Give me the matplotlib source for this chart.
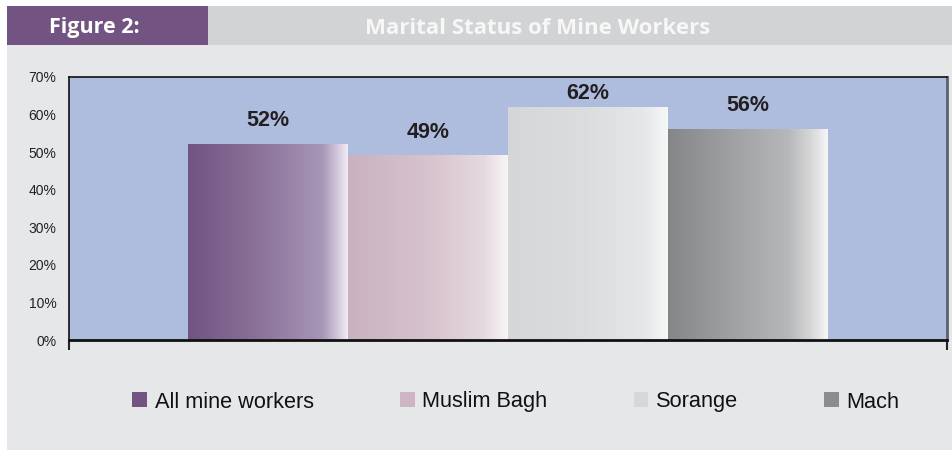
import numpy as np
import matplotlib
matplotlib.use("Agg")
import matplotlib.pyplot as plt
from matplotlib.patches import Rectangle, Patch
from matplotlib.colors import LinearSegmentedColormap

# ---- data ----
series = ["All mine workers", "Muslim Bagh", "Sorange", "Mach"]
values = [52, 49, 62, 56]
value_labels = ["52%", "49%", "62%", "56%"]
yticks = [0, 10, 20, 30, 40, 50, 60, 70]
ytick_labels = ["0%", "10%", "20%", "30%", "40%", "50%", "60%", "70%"]
fig_label = "Figure 2:"
title = "Marital Status of Mine Workers"

# ---- styles ----
legend_colors = ["#735382", "#cfb4c3", "#d6d7d9", "#8c8d8f"]
gradients = [
    [(0.0, "#735382"), (0.45, "#8b7399"), (0.84, "#a796b7"), (0.93, "#cfc4da"), (1.0, "#f0edf4")],
    [(0.0, "#cab1c0"), (0.5, "#d6c3cd"), (0.85, "#e5d9df"), (1.0, "#f8f5f7")],
    [(0.0, "#d5d6d8"), (0.5, "#dcdddf"), (0.85, "#e6e7e8"), (1.0, "#f6f7f7")],
    [(0.0, "#858688"), (0.45, "#a3a4a6"), (0.75, "#b6b7b9"), (0.9, "#d8d8d9"), (1.0, "#f6f6f6")],
]

W, H = 952, 450
fig = plt.figure(figsize=(W / 100, H / 100), dpi=100, facecolor="white")

def frect(x0, y0, x1, y1, color, z=-10):
    # pixel coords (top-left origin) -> figure fraction
    fig.patches.append(Rectangle((x0 / W, 1 - y1 / H), (x1 - x0) / W, (y1 - y0) / H,
                                 transform=fig.transFigure, facecolor=color,
                                 edgecolor="none", zorder=z))

frect(7, 45, 952, 450, "#e6e7e9")
frect(7, 6, 208, 45, "#735382")
frect(208, 6, 952, 45, "#d2d3d5")

fig.text(94 / W, 1 - 28 / H, fig_label, color="white", fontsize=15.5, fontweight="bold",
         family="Open Sans", ha="center", va="center")
fig.text(538 / W, 1 - 28 / H, title, color="#f7f7f7", fontsize=16, fontweight="bold",
         family="Open Sans", ha="center", va="center")

ax_l, ax_r, ax_t, ax_b = 69, 947, 77, 340
ax = fig.add_axes([ax_l / W, 1 - ax_b / H, (ax_r - ax_l) / W, (ax_b - ax_t) / H])
ax.set_zorder(1)
ax.set_facecolor("#aebcde")
ax.set_xlim(-0.5, 0.5)
ax.set_ylim(0, 70)

bw = 160 / (ax_r - ax_l)
n = len(values)
for i, (v, lab) in enumerate(zip(values, value_labels)):
    xc = (i - (n - 1) / 2) * bw
    x0, x1 = xc - bw / 2, xc + bw / 2
    cmap = LinearSegmentedColormap.from_list(f"g{i}", gradients[i])
    grad = np.linspace(0, 1, 256)[None, :]
    ax.imshow(grad, cmap=cmap, extent=(x0, x1, 0, v), aspect="auto",
              interpolation="bilinear", zorder=2)
    ly = min(v + 6.3, 65.6)
    ax.text(xc, ly, lab, ha="center", va="center", fontsize=15.5, fontweight="bold",
            family="Liberation Sans", color="#231f20", zorder=3)

ax.set_xlim(-0.5, 0.5)
ax.set_ylim(0, 70)
ax.set_yticks(yticks)
ax.set_yticklabels(ytick_labels, family="Liberation Sans", fontsize=10, color="#222222")
ax.tick_params(axis="y", length=0, pad=9)
ax.set_xticks([-0.5, 0.5])
ax.set_xticklabels([])
ax.tick_params(axis="x", length=7, width=1.5, direction="out", color="#222222")

ax.spines["top"].set_color("#111111")
ax.spines["top"].set_linewidth(1.2)
ax.spines["left"].set_color("#111111")
ax.spines["left"].set_linewidth(1.2)
ax.spines["right"].set_color("#5c6170")
ax.spines["right"].set_linewidth(2)
ax.spines["bottom"].set_color("#111111")
ax.spines["bottom"].set_linewidth(2)

handles = [Patch(facecolor=c, edgecolor="none", label=s) for c, s in zip(legend_colors, series)]
leg = fig.legend(handles=handles, loc="center", bbox_to_anchor=(516 / W, 1 - 402 / H),
                 ncol=4, frameon=False, prop={"family": "Liberation Sans", "size": 15.7},
                 handlelength=0.68, handleheight=0.68, handletextpad=0.35,
                 columnspacing=3.95)
for t in leg.get_texts():
    t.set_color("#111111")

fig.savefig("out.png", dpi=100, facecolor="white")
